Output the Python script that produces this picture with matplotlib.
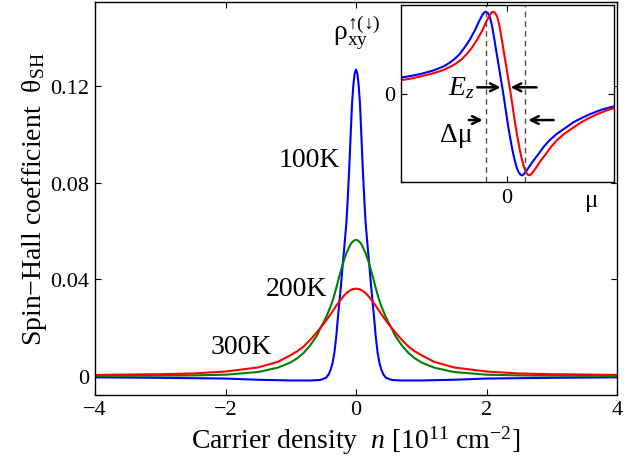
import matplotlib
matplotlib.use("Agg")
import matplotlib.pyplot as plt

plt.rcParams['font.family'] = ['Liberation Serif', 'DejaVu Serif']
plt.rcParams['mathtext.fontset'] = 'custom'
plt.rcParams['mathtext.rm'] = 'Liberation Serif'
plt.rcParams['mathtext.it'] = 'Liberation Serif:italic'
plt.rcParams['mathtext.bf'] = 'Liberation Serif:bold'
plt.rcParams['axes.unicode_minus'] = True

# ---------------- main panel data ----------------
n_100K = [-4.0, -3.0, -2.0, -1.5, -1.0, -0.7, -0.55, -0.46, -0.42, -0.39, -0.36, -0.33, -0.30,
          -0.28, -0.25, -0.23, -0.21, -0.186, -0.17, -0.15, -0.135, -0.12, -0.1, -0.08, -0.06,
          -0.04, -0.02, 0.0,
          0.02, 0.04, 0.06, 0.08, 0.1, 0.12, 0.135, 0.15, 0.17, 0.186, 0.21, 0.23, 0.25, 0.28,
          0.30, 0.33, 0.36, 0.39, 0.42, 0.46, 0.55, 0.7, 1.0, 1.5, 2.0, 3.0, 4.0]
theta_100K = [-0.0006, -0.0008, -0.0011, -0.0016, -0.0019, -0.0019, -0.0017, -0.0008, 0.0006,
              0.0025, 0.0052, 0.0098, 0.0170, 0.0233, 0.0320, 0.0375, 0.0440, 0.0512, 0.0562,
              0.0625, 0.0690, 0.0770, 0.0880, 0.1010, 0.1130, 0.1205, 0.1252, 0.1268,
              0.1252, 0.1205, 0.1130, 0.1010, 0.0880, 0.0770, 0.0690, 0.0625, 0.0562, 0.0512,
              0.0440, 0.0375, 0.0320, 0.0233, 0.0170, 0.0098, 0.0052, 0.0025, 0.0006, -0.0008,
              -0.0017, -0.0019, -0.0019, -0.0016, -0.0011, -0.0008, -0.0006]

n_200K = [-4.0, -3.0, -2.5, -2.0, -1.5, -1.2, -1.0, -0.9, -0.8, -0.7, -0.6, -0.55, -0.5, -0.45,
          -0.4, -0.35, -0.3, -0.25, -0.2, -0.15, -0.1, -0.075, -0.05, -0.025, 0.0,
          0.025, 0.05, 0.075, 0.1, 0.15, 0.2, 0.25, 0.3, 0.35, 0.4, 0.45, 0.5, 0.55, 0.6, 0.7,
          0.8, 0.9, 1.0, 1.2, 1.5, 2.0, 2.5, 3.0, 4.0]
theta_200K = [0.0000, 0.0001, 0.0002, 0.0005, 0.0016, 0.0034, 0.0056, 0.0073, 0.0096, 0.0127,
              0.0166, 0.0195, 0.0220, 0.0248, 0.0280, 0.0318, 0.0366, 0.0418, 0.0466, 0.0506,
              0.0536, 0.0548, 0.0556, 0.0561, 0.0563,
              0.0561, 0.0556, 0.0548, 0.0536, 0.0506, 0.0466, 0.0418, 0.0366, 0.0318, 0.0280,
              0.0248, 0.0220, 0.0195, 0.0166, 0.0127, 0.0096, 0.0073, 0.0056, 0.0034, 0.0016,
              0.0005, 0.0002, 0.0001, 0.0000]

n_300K = [-4.0, -3.0, -2.5, -2.0, -1.5, -1.2, -1.0, -0.9, -0.8, -0.7, -0.6, -0.55, -0.5, -0.45,
          -0.4, -0.35, -0.3, -0.25, -0.2, -0.15, -0.1, -0.05, 0.0,
          0.05, 0.1, 0.15, 0.2, 0.25, 0.3, 0.35, 0.4, 0.45, 0.5, 0.55, 0.6, 0.7, 0.8, 0.9,
          1.0, 1.2, 1.5, 2.0, 2.5, 3.0, 4.0]
theta_300K = [0.0004, 0.0007, 0.0010, 0.0018, 0.0035, 0.0058, 0.0086, 0.0102, 0.0122, 0.0150,
              0.0180, 0.0197, 0.0214, 0.0232, 0.0251, 0.0271, 0.0291, 0.0310, 0.0327, 0.0342,
              0.0352, 0.0359, 0.0361,
              0.0359, 0.0352, 0.0342, 0.0327, 0.0310, 0.0291, 0.0271, 0.0251, 0.0232, 0.0214,
              0.0197, 0.0180, 0.0150, 0.0122, 0.0102, 0.0086, 0.0058, 0.0035, 0.0018, 0.0010,
              0.0007, 0.0004]

temps = ['100K', '200K', '300K']
x_ticks = [-4, -2, 0, 2, 4]
y_ticks = [0, 0.04, 0.08, 0.12]
y_ticklabels = ['0', '0.04', '0.08', '0.12']

# ---------------- inset data (arbitrary units) ----------------
mu_blue = [-1.0, -0.9, -0.8, -0.7, -0.6, -0.55, -0.5, -0.45, -0.4, -0.35, -0.3, -0.27, -0.24,
           -0.22, -0.2, -0.18, -0.16, -0.14, -0.12, -0.1, -0.08, -0.06, -0.035, -0.01, 0.01,
           0.03, 0.05, 0.07, 0.09, 0.11, 0.13, 0.145, 0.16, 0.186, 0.22, 0.25, 0.3, 0.343, 0.4,
           0.469, 0.55, 0.626, 0.7, 0.783, 0.9, 1.01]
rho_blue = [0.18, 0.20, 0.225, 0.258, 0.305, 0.340, 0.385, 0.44, 0.52, 0.61, 0.72, 0.80, 0.87,
            0.91, 0.925, 0.91, 0.86, 0.76, 0.62, 0.47, 0.33, 0.18, 0.0, -0.2, -0.36,
            -0.5, -0.63, -0.74, -0.83, -0.89, -0.92, -0.925, -0.91, -0.87, -0.81, -0.757,
            -0.68, -0.607, -0.53, -0.457, -0.39, -0.326, -0.28, -0.233, -0.18, -0.145]
mu_red = [-1.0, -0.9, -0.8, -0.7, -0.6, -0.53, -0.48, -0.43, -0.38, -0.33, -0.28, -0.23, -0.2,
          -0.17, -0.15, -0.13, -0.11, -0.09, -0.07, -0.05, -0.03, -0.01, 0.01, 0.035, 0.06,
          0.08, 0.1, 0.12, 0.14, 0.16, 0.18, 0.2, 0.215, 0.23, 0.256, 0.29, 0.32, 0.37, 0.413,
          0.47, 0.539, 0.62, 0.7, 0.77, 0.853, 0.93, 1.01]
rho_red = [0.15, 0.17, 0.197, 0.227, 0.265, 0.305, 0.34, 0.385, 0.445, 0.52, 0.61, 0.72, 0.80,
           0.87, 0.91, 0.925, 0.91, 0.86, 0.76, 0.62, 0.47, 0.33, 0.18, 0.0, -0.2, -0.36,
           -0.5, -0.63, -0.74, -0.83, -0.89, -0.92, -0.925, -0.91, -0.87, -0.81, -0.757,
           -0.68, -0.607, -0.53, -0.457, -0.39, -0.326, -0.28, -0.233, -0.195, -0.165]
dash_mu = [-0.20, 0.167]

fig = plt.figure(figsize=(6.44, 4.64), dpi=100)
ax = fig.add_axes([95 / 644, 1 - 395.5 / 464, (617 - 95) / 644, (395.5 - 3) / 464])

ax.plot(n_100K, theta_100K, color=(0, 0, 1), lw=1.5)
ax.plot(n_200K, theta_200K, color=(0, 0.5, 0), lw=1.5)
ax.plot(n_300K, theta_300K, color=(1, 0, 0), lw=1.5)

ax.set_xlim(-4, 4)
ax.set_ylim(-0.0077, 0.1547)
ax.set_xticks(x_ticks)
ax.set_yticks(y_ticks)
ax.set_yticklabels(y_ticklabels)
ax.tick_params(direction='in', top=True, right=True, labelsize=16, length=4.5, width=0.8, pad=4)
for s in ax.spines.values():
    s.set_linewidth(1.0)

ax.set_xlabel('Carrier density  $n$ [10$^{11}$ cm$^{-2}$]', fontsize=20, labelpad=3)
ax.set_ylabel('Spin\u2212Hall coefficient  \u03b8$_{\\rm SH}$', fontsize=20, labelpad=1)

ax.text(-0.245, 0.0894, temps[0], fontsize=20, ha='right', va='center')
ax.text(-0.44, 0.0360, temps[1], fontsize=20, ha='right', va='center')
ax.text(-1.29, 0.0120, temps[2], fontsize=20, ha='right', va='center')
ax.text(-0.36, 0.1425, '\u03c1$_{\\rm xy}^{\u2191(\u2193)}$', fontsize=20, ha='left', va='center')

# ---------------- inset ----------------
axin = fig.add_axes([401 / 644, 1 - 183 / 464, (614 - 401) / 644, (183 - 6) / 464])
axin.plot(mu_blue, rho_blue, color=(0, 0, 1), lw=1.5)
axin.plot(mu_red, rho_red, color=(1, 0, 0), lw=1.5)
for m in dash_mu:
    axin.axvline(m, color='0.3', ls=(0, (4, 3)), lw=1.0)
axin.set_xlim(-1, 1.01)
axin.set_ylim(-1, 1)
axin.set_xticks([0])
axin.set_yticks([0])
axin.set_xticklabels(['0'])
axin.set_yticklabels(['0'])
axin.tick_params(direction='in', top=True, right=True, labelsize=16, length=4, width=0.8, pad=4)
for s in axin.spines.values():
    s.set_linewidth(1.0)
axin.text(0.80, -1.08, '\u03bc', fontsize=18, ha='center', va='top')

arrow_kw = dict(arrowstyle='->', lw=1.8, color='k', mutation_scale=14, shrinkA=0, shrinkB=0)
axin.annotate('', xy=(-0.06, 0.07), xytext=(-0.28, 0.07), arrowprops=arrow_kw)
axin.annotate('', xy=(0.035, 0.07), xytext=(0.28, 0.07), arrowprops=arrow_kw)
axin.annotate('', xy=(-0.23, -0.30), xytext=(-0.36, -0.30), arrowprops=arrow_kw)
axin.annotate('', xy=(0.20, -0.30), xytext=(0.44, -0.30), arrowprops=arrow_kw)
axin.text(-0.31, 0.07, '$E_z$', fontsize=20, ha='right', va='center')
axin.text(-0.32, -0.46, '\u0394\u03bc', fontsize=20, ha='right', va='center')

fig.savefig('out.png', dpi=100)
